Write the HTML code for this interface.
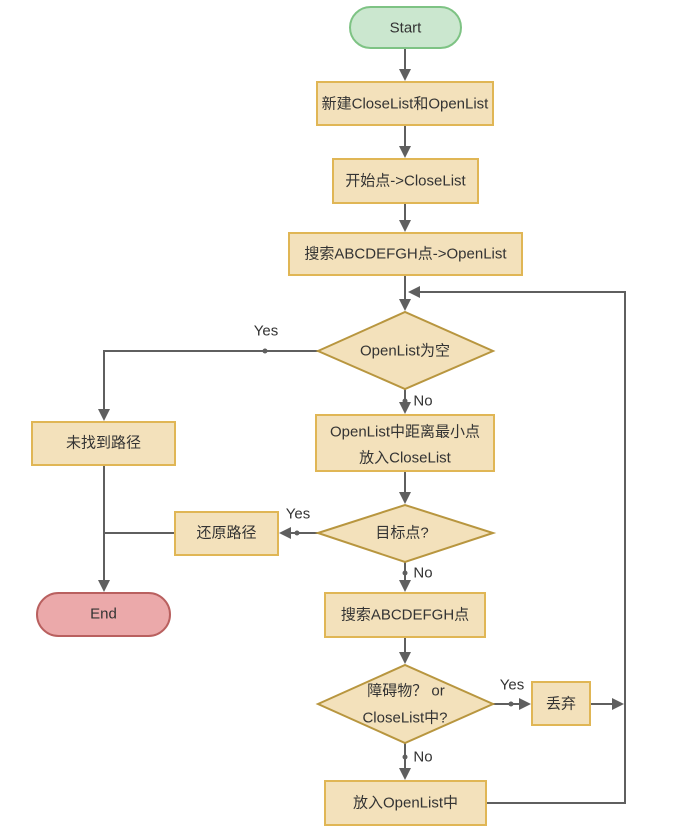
<!DOCTYPE html>
<html><head><meta charset="utf-8"><style>
html,body{margin:0;padding:0;background:#fff;}
svg{display:block;}
text{font-family:"Liberation Sans","Noto Sans CJK SC",sans-serif;font-size:15px;fill:#333;text-anchor:middle;dominant-baseline:central;}
.b{fill:#f3e1bb;stroke:#e0b655;stroke-width:2;}
.d{fill:#f3e1bb;stroke:#b8963f;stroke-width:2;}
.l{stroke:#5f5f5f;stroke-width:2;fill:none;}
.a{fill:#5f5f5f;}
</style></head><body>
<svg width="683" height="833" viewBox="0 0 683 833" xmlns="http://www.w3.org/2000/svg">
<g class="l">
<line x1="405" y1="48" x2="405" y2="74"/>
<line x1="405" y1="125" x2="405" y2="151"/>
<line x1="405" y1="203" x2="405" y2="225"/>
<line x1="405" y1="275" x2="405" y2="304"/>
<line x1="405" y1="389" x2="405" y2="407"/>
<line x1="405" y1="471" x2="405" y2="497"/>
<line x1="405" y1="562" x2="405" y2="585"/>
<line x1="405" y1="637" x2="405" y2="657"/>
<line x1="405" y1="743" x2="405" y2="773"/>
<polyline points="318,351 104,351 104,414"/>
<line x1="104" y1="465" x2="104" y2="585"/>
<line x1="175" y1="533" x2="104" y2="533"/>
<line x1="318" y1="533" x2="290" y2="533"/>
<line x1="493" y1="704" x2="524" y2="704"/>
<line x1="590" y1="704" x2="617" y2="704"/>
<polyline points="486,803 625,803 625,292 419,292"/>
</g>
<g class="a">
<polygon points="399,69 411,69 405,81"/>
<polygon points="399,146 411,146 405,158"/>
<polygon points="399,220 411,220 405,232"/>
<polygon points="399,299 411,299 405,311"/>
<polygon points="399,402 411,402 405,414"/>
<polygon points="399,492 411,492 405,504"/>
<polygon points="399,580 411,580 405,592"/>
<polygon points="399,652 411,652 405,664"/>
<polygon points="399,768 411,768 405,780"/>
<polygon points="98,409 110,409 104,421"/>
<polygon points="98,580 110,580 104,592"/>
<polygon points="291,527 291,539 279,533"/>
<polygon points="519,698 519,710 531,704"/>
<polygon points="612,698 612,710 624,704"/>
<polygon points="420,286 420,298 408,292"/>
<circle cx="265" cy="351" r="2.5"/>
<circle cx="405" cy="401" r="2.5"/>
<circle cx="297" cy="533" r="2.5"/>
<circle cx="405" cy="573" r="2.5"/>
<circle cx="511" cy="704" r="2.5"/>
<circle cx="405" cy="757" r="2.5"/>
</g>
<rect x="350" y="7" width="111" height="41" rx="20.5" fill="#cbe7cf" stroke="#7ec384" stroke-width="2"/>
<text x="405.5" y="28">Start</text>
<rect class="b" x="317" y="82" width="176" height="43"/>
<text x="405" y="104">新建CloseList和OpenList</text>
<rect class="b" x="333" y="159" width="145" height="44"/>
<text x="405.5" y="181">开始点-&gt;CloseList</text>
<rect class="b" x="289" y="233" width="233" height="42"/>
<text x="405.5" y="254">搜索ABCDEFGH点-&gt;OpenList</text>
<polygon class="d" points="318,351 405,312 493,351 405,389"/>
<text x="405" y="351">OpenList为空</text>
<rect class="b" x="316" y="415" width="178" height="56"/>
<text x="405" y="432">OpenList中距离最小点</text>
<text x="405" y="458">放入CloseList</text>
<rect class="b" x="32" y="422" width="143" height="43"/>
<text x="103.5" y="443">未找到路径</text>
<polygon class="d" points="318,533 405,505 493,533 405,562"/>
<text x="402" y="533">目标点?</text>
<rect class="b" x="175" y="512" width="103" height="43"/>
<text x="226.5" y="533">还原路径</text>
<rect x="37" y="593" width="133" height="43" rx="21.5" fill="#eba9aa" stroke="#b9605f" stroke-width="2"/>
<text x="103.5" y="614">End</text>
<rect class="b" x="325" y="593" width="160" height="44"/>
<text x="405" y="615">搜索ABCDEFGH点</text>
<polygon class="d" points="318,704 405,665 493,704 405,743"/>
<text x="406" y="691">障碍物？ or</text>
<text x="405" y="718">CloseList中?</text>
<rect class="b" x="532" y="682" width="58" height="43"/>
<text x="561" y="704">丢弃</text>
<rect class="b" x="325" y="781" width="161" height="44"/>
<text x="405.5" y="803">放入OpenList中</text>
<text x="266" y="331">Yes</text>
<text x="423" y="401">No</text>
<text x="298" y="514">Yes</text>
<text x="423" y="573">No</text>
<text x="512" y="685">Yes</text>
<text x="423" y="757">No</text>
</svg>
</body></html>
